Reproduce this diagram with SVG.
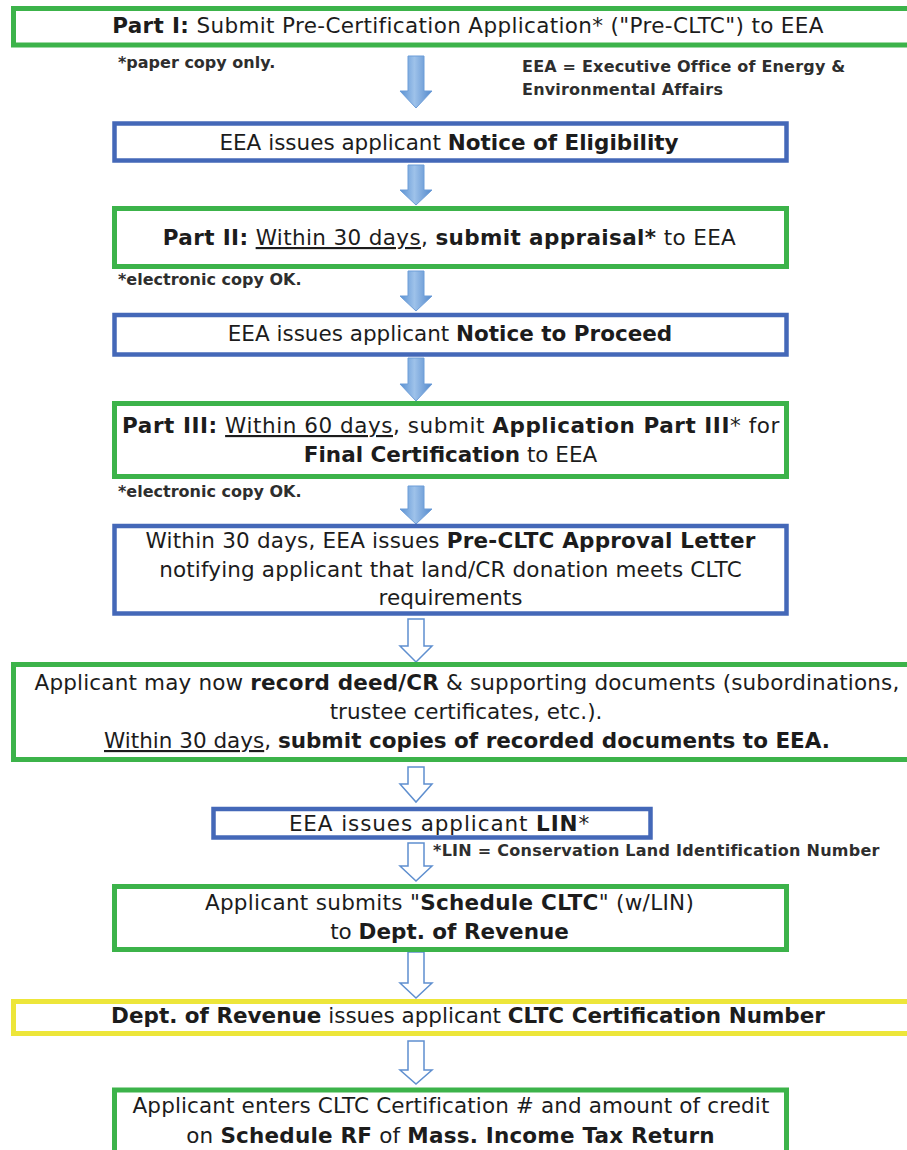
<svg xmlns="http://www.w3.org/2000/svg" width="907" height="1150" viewBox="0 0 907 1150">
<style>
.t{font-family:"DejaVu Sans",Verdana,sans-serif;font-size:21.5px;fill:#1c1c1c}
.n{font-family:"DejaVu Sans",Verdana,sans-serif;font-size:16px;font-weight:bold;fill:#2e2e2e}
.b{font-weight:bold}
.u{text-decoration:underline}
.g{fill:#fff;stroke:#3cb34a;stroke-width:5}
.bl{fill:#fff;stroke:#4468b8;stroke-width:4.5}
.y{fill:#fff;stroke:#ede63a;stroke-width:5}
.fa{fill:url(#ag);stroke:#6d9dd8;stroke-width:1}
.oa{fill:#fff;stroke:#5f8fcf;stroke-width:1.5}
</style>
<defs>
<linearGradient id="ag" x1="0" y1="0" x2="1" y2="0">
<stop offset="0" stop-color="#5a91d2"/>
<stop offset="0.45" stop-color="#9ec2ea"/>
<stop offset="1" stop-color="#5389cc"/>
</linearGradient>
</defs>
<rect width="907" height="1150" fill="#fff"/>

<g id="connectors">
<path class="fa" d="M408,56H424V91H432L416,108L400,91H408Z"/>
<path class="fa" d="M408,165H424V190H432L416,205L400,190H408Z"/>
<path class="fa" d="M408,271H424V296H432L416,311L400,296H408Z"/>
<path class="fa" d="M408,358H424V384H432L416,401L400,384H408Z"/>
<path class="fa" d="M408,486H424V509H432L416,524L400,509H408Z"/>
<path class="oa" d="M408,619H424V646H432L416,662L400,646H408Z"/>
<path class="oa" d="M408,767H424V784H432L416,802L400,784H408Z"/>
<path class="oa" d="M408,843H424V866H432L416,881L400,866H408Z"/>
<path class="oa" d="M408,952H424V983H432L416,998L400,983H408Z"/>
<path class="oa" d="M408,1041H424V1070H432L416,1084L400,1070H408Z"/>
</g>

<g id="n1">
<rect class="g" x="13.5" y="8.5" width="910" height="36.5"/>
<text class="t" x="468" y="33" text-anchor="middle" letter-spacing="0.35"><tspan class="b">Part I:</tspan> Submit Pre-Certification Application* ("Pre-CLTC") to EEA</text>
</g>
<g id="note1">
<text class="n" x="118" y="68">*paper copy only.</text>
</g>
<g id="note-eea">
<text class="n" x="522" y="72" letter-spacing="0.2">EEA = Executive Office of Energy &amp;</text>
<text class="n" x="522" y="95" letter-spacing="0.2">Environmental Affairs</text>
</g>

<g id="n2">
<rect class="bl" x="114.5" y="123.5" width="672" height="37"/>
<text class="t" x="449" y="150" text-anchor="middle">EEA issues applicant <tspan class="b">Notice of Eligibility</tspan></text>
</g>

<g id="n3">
<rect class="g" x="114.5" y="208.5" width="672" height="58"/>
<text class="t" x="449.5" y="245" text-anchor="middle" letter-spacing="0.37"><tspan class="b">Part II:</tspan> <tspan class="u">Within 30 days</tspan>, <tspan class="b">submit appraisal*</tspan> to EEA</text>
</g>
<g id="note2">
<text class="n" x="118" y="285">*electronic copy OK.</text>
</g>

<g id="n4">
<rect class="bl" x="114.5" y="315" width="672" height="39.5"/>
<text class="t" x="450" y="341" text-anchor="middle">EEA issues applicant <tspan class="b">Notice to Proceed</tspan></text>
</g>

<g id="n5">
<rect class="g" x="114.5" y="403.5" width="672" height="73"/>
<text class="t" x="451" y="433" text-anchor="middle" letter-spacing="0.55"><tspan class="b">Part III:</tspan> <tspan class="u">Within 60 days</tspan>, submit <tspan class="b">Application Part III</tspan>* for</text>
<text class="t" x="450.5" y="462" text-anchor="middle"><tspan class="b">Final Certification</tspan> to EEA</text>
</g>
<g id="note3">
<text class="n" x="118" y="497">*electronic copy OK.</text>
</g>

<g id="n6">
<rect class="bl" x="114.5" y="526" width="672" height="87.5"/>
<text class="t" x="450.5" y="548" text-anchor="middle" letter-spacing="0.2">Within 30 days, EEA issues <tspan class="b">Pre-CLTC Approval Letter</tspan></text>
<text class="t" x="450.5" y="576.5" text-anchor="middle" letter-spacing="0.15">notifying applicant that land/CR donation meets CLTC</text>
<text class="t" x="450.5" y="605" text-anchor="middle">requirements</text>
</g>

<g id="n7">
<rect class="g" x="13.5" y="664.5" width="910" height="95"/>
<text class="t" x="467" y="690" text-anchor="middle" letter-spacing="0.17">Applicant may now <tspan class="b">record deed/CR</tspan> &amp; supporting documents (subordinations,</text>
<text class="t" x="466" y="719" text-anchor="middle">trustee certificates, etc.).</text>
<text class="t" x="467" y="748" text-anchor="middle"><tspan class="u">Within 30 days</tspan>, <tspan class="b">submit copies of recorded documents to EEA.</tspan></text>
</g>

<g id="n8">
<rect class="bl" x="213.5" y="809" width="437" height="28.5"/>
<text class="t" x="439.5" y="831" text-anchor="middle" letter-spacing="0.9">EEA issues applicant <tspan class="b">LIN</tspan>*</text>
</g>
<g id="note4">
<text class="n" x="433" y="856" letter-spacing="0.26">*LIN = Conservation Land Identification Number</text>
</g>

<g id="n9">
<rect class="g" x="114.5" y="886.5" width="672" height="63"/>
<text class="t" x="449.5" y="910" text-anchor="middle" letter-spacing="0.3">Applicant submits "<tspan class="b">Schedule CLTC</tspan>" (w/LIN)</text>
<text class="t" x="449.5" y="939" text-anchor="middle">to <tspan class="b">Dept. of Revenue</tspan></text>
</g>

<g id="n10">
<rect class="y" x="13.5" y="1001.5" width="910" height="32"/>
<text class="t" x="468" y="1023" text-anchor="middle"><tspan class="b">Dept. of Revenue</tspan> issues applicant <tspan class="b">CLTC Certification Number</tspan></text>
</g>

<g id="n11">
<rect class="g" x="114.5" y="1090" width="672" height="80"/>
<text class="t" x="451" y="1113" text-anchor="middle" letter-spacing="0.12">Applicant enters CLTC Certification # and amount of credit</text>
<text class="t" x="450.5" y="1143" text-anchor="middle" letter-spacing="0.2">on <tspan class="b">Schedule RF</tspan> of <tspan class="b">Mass. Income Tax Return</tspan></text>
</g>
</svg>
